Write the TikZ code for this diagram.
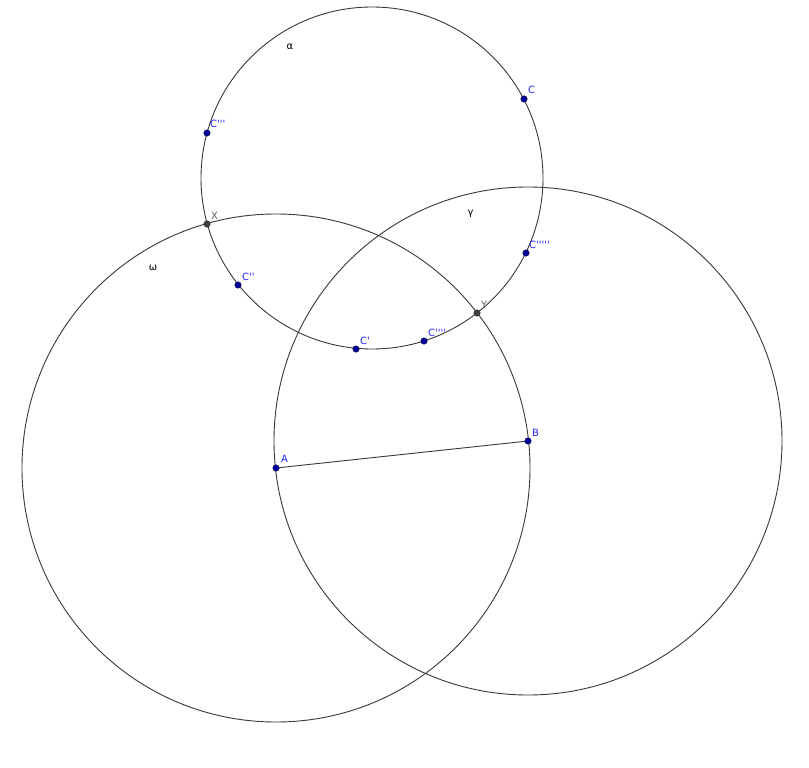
\documentclass[tikz,border=0pt]{standalone}
\usepackage{fontspec}
\setmainfont{DejaVu Sans}[Ligatures=TeXOff]
\begin{document}
\begin{tikzpicture}[x=1pt,y=-1pt,
  curve/.style={draw=black!78, line width=0.9pt},
  bpt/.style={circle, fill=blue!60!black, draw=blue!30!black, line width=0.4pt, inner sep=0pt, minimum size=6.5pt},
  gpt/.style={circle, fill=black!75, draw=black!85, line width=0.4pt, inner sep=0pt, minimum size=6.5pt},
  blab/.style={anchor=base west, inner sep=0pt, text=blue!85!white, font=\fontsize{10}{12}\selectfont},
  glab/.style={anchor=base west, inner sep=0pt, text=black!60, font=\fontsize{10}{12}\selectfont},
  clab/.style={inner sep=0pt, text=black, font=\fontsize{10}{12}\selectfont}]
\useasboundingbox (0,0) rectangle (809,768);
\fill[white] (0,0) rectangle (809,768);
\coordinate (O) at (372,178);
\coordinate (Ac) at (276,468);
\coordinate (Bc) at (528,441);
% circles
\draw[curve] (Ac) circle[radius=254];
\draw[curve] (Bc) circle[radius=254];
\draw[curve] (O) circle[radius=171];
% segment
\draw[curve] (Ac) -- (Bc);
% points
\node[bpt] (A) at (Ac) {};
\node[bpt] (B) at (Bc) {};
\node[bpt] (C) at (524,99) {};
\node[bpt] (C3) at (207,133) {};
\node[bpt] (C2) at (238,285) {};
\node[bpt] (C1) at (356,349) {};
\node[bpt] (C4) at (424,341) {};
\node[bpt] (C5) at (526,253) {};
\node[gpt] (X) at (207,224) {};
\node[gpt] (Y) at (477,313) {};
% labels
\node[blab] (lA) at ([shift={(5,-6)}]A.center) {A};
\node[blab] (lB) at ([shift={(4,-5)}]B.center) {B};
\node[blab] (lC) at ([shift={(4,-5)}]C.center) {C};
\node[blab] (lC3) at ([shift={(3,-5)}]C3.center) {C'''};
\node[blab] (lC2) at ([shift={(4,-5)}]C2.center) {C''};
\node[blab] (lC1) at ([shift={(4,-5)}]C1.center) {C'};
\node[blab] (lC4) at ([shift={(4,-5)}]C4.center) {C''''};
\node[blab] (lC5) at ([shift={(3,-5)}]C5.center) {C'''''};
\node[glab] (lX) at ([shift={(4,-5)}]X.center) {X};
\node[glab] (lY) at ([shift={(4,-5)}]Y.center) {Y};
\node[clab] (la) at (290,47) {α};
\node[clab] (lg) at (470.5,214) {γ};
\node[clab] (lw) at (153,268) {ω};
\end{tikzpicture}
\end{document}
